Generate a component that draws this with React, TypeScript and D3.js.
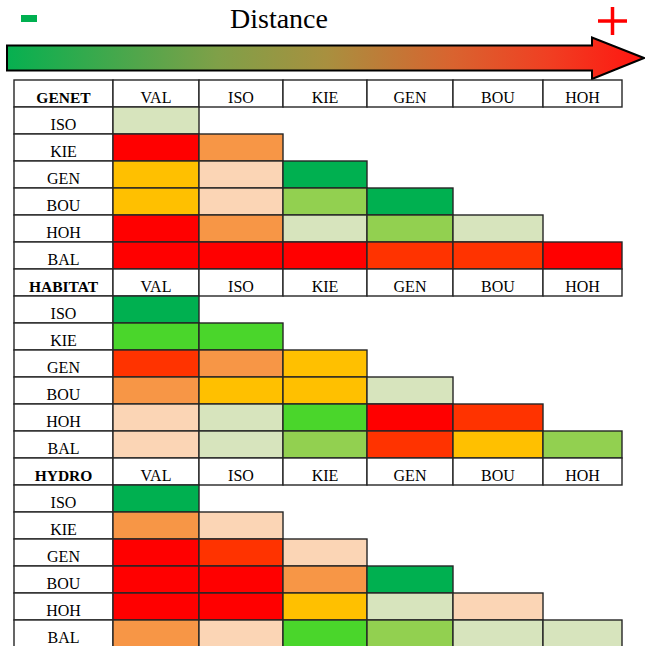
import React from "react";
import * as d3 from "d3";

// Distance levels: 0 = closest (dark green) ... 8 = farthest (red)
const columns = ["VAL", "ISO", "KIE", "GEN", "BOU", "HOH"];
const rows = ["ISO", "KIE", "GEN", "BOU", "HOH", "BAL"];
const matrixNames = ["GENET", "HABITAT", "HYDRO"];

const genet: number[][] = [
  [3],
  [8, 6],
  [5, 4, 0],
  [5, 4, 2, 0],
  [8, 6, 3, 2, 3],
  [8, 8, 8, 7, 7, 8],
];
const habitat: number[][] = [
  [0],
  [1, 1],
  [7, 6, 5],
  [6, 5, 5, 3],
  [4, 3, 1, 8, 7],
  [4, 3, 2, 7, 5, 2],
];
const hydro: number[][] = [
  [0],
  [6, 4],
  [8, 7, 4],
  [8, 8, 6, 0],
  [8, 8, 5, 3, 4],
  [6, 4, 1, 2, 3, 3],
];
const matrices = [genet, habitat, hydro];

const levels = [0, 1, 2, 3, 4, 5, 6, 7, 8];
const levelColors = [
  "#00B050",
  "#4AD62B",
  "#92D050",
  "#D7E4BD",
  "#FBD5B5",
  "#FFC000",
  "#F79646",
  "#FF3300",
  "#FF0000",
];

const gradientStops = [
  { o: 0, c: "#06B050" },
  { o: 0.33, c: "#7FA048" },
  { o: 0.5, c: "#A8903F" },
  { o: 0.7, c: "#D9632F" },
  { o: 0.85, c: "#F03F22" },
  { o: 1, c: "#FF1510" },
];

const FONT = "'Liberation Serif', 'Times New Roman', serif";

export default function App() {
  const W = 645;
  const H = 646;
  const color = d3.scaleOrdinal<number, string>().domain(levels).range(levelColors);

  const tableLeft = 14;
  const labelRight = 113;
  const colEdges = [113, 199, 283, 367, 453, 543, 622];
  const x = (i: number) => colEdges[i];
  const rowH = 27;
  const top0 = 80;
  const y = d3.scaleLinear().domain([0, 1]).range([top0, top0 + rowH]);

  const stroke = "#262626";
  const sw = 1.4;

  const blocks = matrices.map((m, bi) => {
    const baseRow = bi * 7;
    const els: React.ReactNode[] = [];
    const hy = y(baseRow);
    // header label cell
    els.push(
      <rect key={`h-l-${bi}`} x={tableLeft} y={hy} width={labelRight - tableLeft} height={rowH} fill="#fff" stroke={stroke} strokeWidth={sw} />
    );
    els.push(
      <text key={`h-t-${bi}`} x={(tableLeft + labelRight) / 2} y={hy + rowH - 4} textAnchor="middle" fontFamily={FONT} fontWeight="bold" fontSize={15.5} fill="#000">
        {matrixNames[bi]}
      </text>
    );
    columns.forEach((c, ci) => {
      els.push(
        <rect key={`h-c-${bi}-${ci}`} x={x(ci)} y={hy} width={x(ci + 1) - x(ci)} height={rowH} fill="#fff" stroke={stroke} strokeWidth={sw} />
      );
      els.push(
        <text key={`h-ct-${bi}-${ci}`} x={(x(ci) + x(ci + 1)) / 2} y={hy + rowH - 4} textAnchor="middle" fontFamily={FONT} fontSize={16} fill="#000">
          {c}
        </text>
      );
    });
    rows.forEach((r, ri) => {
      const ry = y(baseRow + 1 + ri);
      els.push(
        <rect key={`r-l-${bi}-${ri}`} x={tableLeft} y={ry} width={labelRight - tableLeft} height={rowH} fill="#fff" stroke={stroke} strokeWidth={sw} />
      );
      els.push(
        <text key={`r-t-${bi}-${ri}`} x={(tableLeft + labelRight) / 2} y={ry + rowH - 4} textAnchor="middle" fontFamily={FONT} fontSize={16} fill="#000">
          {r}
        </text>
      );
      m[ri].forEach((v, ci) => {
        els.push(
          <rect key={`c-${bi}-${ri}-${ci}`} x={x(ci)} y={ry} width={x(ci + 1) - x(ci)} height={rowH} fill={color(v)} stroke={stroke} strokeWidth={sw} />
        );
      });
    });
    return <g key={`b-${bi}`}>{els}</g>;
  });

  // arrow geometry
  const ax0 = 7, ax1 = 592, axTip = 644;
  const bodyTop = 45.5, bodyBot = 70.5, headTop = 37.5, headBot = 79;
  const midY = (bodyTop + bodyBot) / 2;
  const arrowPath = d3.path();
  arrowPath.moveTo(ax0, bodyTop);
  arrowPath.lineTo(ax1, bodyTop);
  arrowPath.lineTo(ax1, headTop);
  arrowPath.lineTo(axTip, midY);
  arrowPath.lineTo(ax1, headBot);
  arrowPath.lineTo(ax1, bodyBot);
  arrowPath.lineTo(ax0, bodyBot);
  arrowPath.closePath();

  return (
    <svg width={W} height={H} style={{ position: "absolute", left: 0, top: 0, background: "#fff" }}>
      <defs>
        <linearGradient id="distGrad" x1={ax0} x2={axTip} y1={0} y2={0} gradientUnits="userSpaceOnUse">
          {gradientStops.map((s, i) => (
            <stop key={i} offset={s.o} stopColor={s.c} />
          ))}
        </linearGradient>
      </defs>
      <rect x={0} y={0} width={W} height={H} fill="#fff" />
      <rect x={21} y={15} width={16} height={7} fill="#00B050" />
      <text x={279} y={28} textAnchor="middle" fontFamily={FONT} fontSize={28} fill="#000">
        Distance
      </text>
      <line x1={598} x2={627} y1={21} y2={21} stroke="#FF0000" strokeWidth={3.5} />
      <line x1={612.5} x2={612.5} y1={7} y2={35} stroke="#FF0000" strokeWidth={3.5} />
      <path d={arrowPath.toString()} fill="url(#distGrad)" stroke="#000" strokeWidth={2} strokeLinejoin="miter" />
      {blocks}
    </svg>
  );
}
